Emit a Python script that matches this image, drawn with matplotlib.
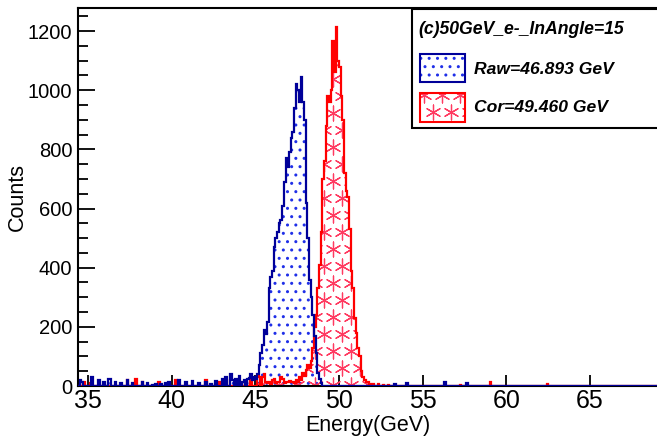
import numpy as np
import matplotlib.pyplot as plt
from matplotlib.patches import Rectangle
from matplotlib.ticker import MultipleLocator

plt.rcParams['font.family'] = ['Liberation Sans', 'DejaVu Sans']
plt.rcParams['hatch.linewidth'] = 1.0

# histogram binning (GeV)
bin_width = 0.1
e_lo, e_hi = 34.4, 69.0

# Raw energy: main peak, 0.1 GeV bins starting at 45.0 GeV
raw_peak_start = 45.0
raw_peak = [25, 40, 70, 110, 140, 190, 175, 215, 330, 370,
            390, 470, 500, 520, 550, 560, 610, 690, 770, 740,
            790, 840, 860, 940, 1020, 1000, 960, 1045, 960, 900,
            620, 500, 360, 300, 240, 170, 110, 45, 25, 10]
# Raw energy: isolated bins outside the peak (bin left edge, counts)
raw_tail_e = [34.5, 34.6, 35.2, 35.6, 35.9, 36.2, 36.3, 36.6, 36.9, 37.3,
              37.6, 38.2, 38.5, 38.8, 39.0, 39.3, 39.6, 39.8, 40.4, 40.8,
              41.2, 41.6, 42.0, 42.3, 42.6, 43.0, 43.2, 43.5, 43.6, 43.8,
              44.0, 44.2, 44.3, 44.5, 44.6, 44.7, 44.8, 44.9,
              53.3, 54.0, 56.3, 57.6]
raw_tail_n = [20, 12, 30, 20, 15, 25, 22, 15, 10, 20,
              10, 15, 10, 5, 8, 6, 10, 15, 20, 12,
              18, 10, 12, 8, 18, 25, 30, 40, 20, 25,
              35, 15, 20, 25, 28, 40, 20, 30,
              8, 10, 15, 10]

# Corrected energy: main peak, 0.1 GeV bins starting at 45.4 GeV
cor_peak_start = 45.4
cor_peak = [30, 40, 15, 10, 12, 8, 20, 22, 10, 12,
            15, 30, 25, 10, 12, 15, 18, 12, 15, 10,
            20, 15, 30, 20, 45, 35, 55, 70, 60, 85,
            130, 200, 240, 330, 410, 520, 700, 760, 880, 980,
            960, 1000, 1165, 1060, 1215, 1100, 1080, 980, 900, 720,
            660, 640, 530, 390, 330, 230, 180, 130, 100, 50,
            30, 20, 15, 12, 8, 5]
cor_tail_e = [34.7, 35.1, 37.3, 37.8, 38.2, 39.2, 40.2, 42.0, 42.8, 43.2,
              44.4, 44.7, 45.1, 45.2, 52.0, 52.3, 52.6, 52.9, 57.2, 59.0, 62.4]
cor_tail_n = [15, 10, 20, 25, 15, 15, 20, 20, 15, 20,
              15, 25, 35, 30, 8, 6, 5, 4, 5, 12, 8]

title_text = "(c)50GeV_e-_InAngle=15"
raw_label = "Raw=46.893 GeV"
cor_label = "Cor=49.460 GeV"

navy = '#000099'
dot_col = '#1f2fe8'
red = '#ff0000'
star_col = '#ff3a60'


def fill_hist(start, peak, tail_e, tail_n):
    edges = np.round(np.arange(e_lo, e_hi + bin_width / 2, bin_width), 2)
    counts = np.zeros(len(edges) - 1)
    i0 = int(round((start - e_lo) / bin_width))
    counts[i0:i0 + len(peak)] = peak
    for e, n in zip(tail_e, tail_n):
        counts[int(round((e - e_lo) / bin_width))] = n
    return edges, counts


def star_lattice(x0, x1, y0, y1, dx=18, dy=17):
    # staggered grid (pixels) for the ROOT-like asterisk fill pattern
    px, py = [], []
    for k, y in enumerate(np.arange(y0, y1, dy)):
        off = (dx / 2) * (k % 2)
        for x in np.arange(x0 + off, x1, dx):
            px.append(x)
            py.append(y)
    return np.array(px), np.array(py)


edges, raw_counts = fill_hist(raw_peak_start, raw_peak, raw_tail_e, raw_tail_n)
_, cor_counts = fill_hist(cor_peak_start, cor_peak, cor_tail_e, cor_tail_n)

W, H = 657, 440
fig = plt.figure(figsize=(W / 100, H / 100), dpi=100)
ax = fig.add_axes([78 / W, 54 / H, 1 - 78 / W, 378 / H])
ax.set_xlim(e_lo, e_hi)
ax.set_ylim(0, 1278)

# hatched fills, then outlines
ax.stairs(raw_counts, edges, fill=True, facecolor='none', edgecolor=dot_col,
          hatch='..', linewidth=0, zorder=2)
cor_fill = ax.stairs(cor_counts, edges, fill=True, facecolor='none',
                     linewidth=0, zorder=2)
sx, sy = star_lattice(0, W, 4, H)
sd = ax.transData.inverted().transform(np.column_stack([sx, sy]))
stars = ax.scatter(sd[:, 0], sd[:, 1], marker=(6, 2, 0), s=115, color=star_col,
                   linewidths=0.9, zorder=2)
stars.set_clip_path(cor_fill)
ax.stairs(cor_counts, edges, color=red, linewidth=1.6, zorder=3)
ax.stairs(raw_counts, edges, color=navy, linewidth=1.6, zorder=3.1)

ax.set_xticks([35, 40, 45, 50, 55, 60, 65])
ax.set_yticks(range(0, 1201, 200))
ax.yaxis.set_minor_locator(MultipleLocator(50))
ax.spines['right'].set_visible(False)
for s in ['left', 'bottom', 'top']:
    ax.spines[s].set_linewidth(1.5)
ax.tick_params(axis='x', direction='in', length=8, width=1.3, labelsize=18, pad=2, top=False)
ax.tick_params(axis='y', which='major', direction='in', length=12, width=1.3, labelsize=14.5, pad=4)
ax.tick_params(axis='y', which='minor', direction='in', length=7, width=1.3)

ax.set_xlabel("Energy(GeV)", fontsize=15.5, va='center')
ax.xaxis.set_label_coords(0.5, -0.105)
ax.set_ylabel("Counts", fontsize=15.5, va='center')
ax.yaxis.set_label_coords(-0.1045, 0.5)

# legend box drawn in pixel coordinates of the figure
lax = fig.add_axes([0, 0, 1, 1])
lax.set_xlim(0, W)
lax.set_ylim(H, 0)
lax.axis('off')
lax.add_patch(Rectangle((412, 9), 260, 119, facecolor='white', edgecolor='black', linewidth=1.5))
lax.text(418, 30, title_text, fontsize=12.7, fontweight='bold', fontstyle='italic',
         va='center', ha='left')
lax.add_patch(Rectangle((420, 54), 45, 28, facecolor='none', edgecolor=dot_col, hatch='..', linewidth=0))
lax.add_patch(Rectangle((420, 54), 45, 28, facecolor='none', edgecolor=navy, linewidth=1.5))
lax.text(474, 70, raw_label, fontsize=12.6, fontweight='bold', fontstyle='italic',
         va='center', ha='left')
box = Rectangle((420, 93), 45, 29, facecolor='none', linewidth=0)
lax.add_patch(box)
lx, ly = star_lattice(424, 470, 95, 130)
lstars = lax.scatter(lx, ly, marker=(6, 2, 0), s=115, color=star_col, linewidths=0.9)
lstars.set_clip_path(box)
lax.add_patch(Rectangle((420, 93), 45, 29, facecolor='none', edgecolor=red, linewidth=1.5))
lax.text(474, 108, cor_label, fontsize=12.6, fontweight='bold', fontstyle='italic',
         va='center', ha='left')

fig.savefig('out.png', dpi=100)
